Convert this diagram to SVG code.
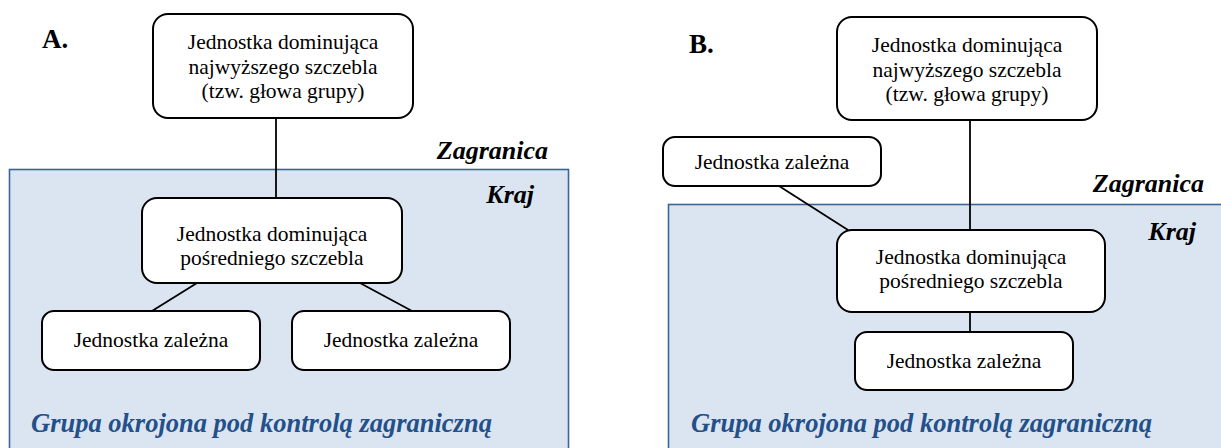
<svg xmlns="http://www.w3.org/2000/svg" width="1221" height="448" viewBox="0 0 1221 448">
<style>
.region{fill:#dbe5f1;stroke:#3b6497;stroke-width:1.6}
.node{fill:#ffffff;stroke:#000000;stroke-width:2}
.conn line{stroke:#000;stroke-width:1.8}
</style>
<rect x="0" y="0" width="1221" height="448" fill="#ffffff"/>

<!-- Panel A -->
<g id="panelA">
  <rect class="region" x="9.5" y="169.5" width="559" height="300"/>
  <text font-family="Liberation Serif" font-size="27" font-weight="bold" fill="#000" x="42" y="48">A.</text>
  <text font-family="Liberation Serif" font-size="26" font-weight="bold" font-style="italic" text-anchor="end" fill="#000" x="548" y="159">Zagranica</text>
  <text font-family="Liberation Serif" font-size="26" font-weight="bold" font-style="italic" text-anchor="end" fill="#000" x="534" y="203">Kraj</text>
  <text font-family="Liberation Serif" font-size="26.5" font-weight="bold" font-style="italic" fill="#24508a" x="31" y="432">Grupa okrojona pod kontrolą zagraniczną</text>
</g>
<g id="connectorsA" class="conn">
  <line x1="276" y1="118" x2="276" y2="198"/>
  <line x1="197" y1="283" x2="152" y2="311"/>
  <line x1="360" y1="283" x2="412" y2="311"/>
</g>
<g id="A_top">
  <rect class="node" x="153" y="14" width="260" height="104" rx="15"/>
  <text font-family="Liberation Serif" font-size="21.5" text-anchor="middle" fill="#000" x="283" y="49">Jednostka dominująca</text>
  <text font-family="Liberation Serif" font-size="21.5" text-anchor="middle" fill="#000" x="283" y="74">najwyższego szczebla</text>
  <text font-family="Liberation Serif" font-size="21.5" text-anchor="middle" fill="#000" x="283" y="98">(tzw. głowa grupy)</text>
</g>
<g id="A_mid">
  <rect class="node" x="142" y="198" width="260" height="85" rx="15"/>
  <text font-family="Liberation Serif" font-size="21.5" text-anchor="middle" fill="#000" x="272" y="241">Jednostka dominująca</text>
  <text font-family="Liberation Serif" font-size="21.5" text-anchor="middle" fill="#000" x="272" y="265">pośredniego szczebla</text>
</g>
<g id="A_child1">
  <rect class="node" x="42" y="311" width="218" height="59" rx="12"/>
  <text font-family="Liberation Serif" font-size="21.5" text-anchor="middle" fill="#000" x="151" y="347">Jednostka zależna</text>
</g>
<g id="A_child2">
  <rect class="node" x="292" y="311" width="218" height="59" rx="12"/>
  <text font-family="Liberation Serif" font-size="21.5" text-anchor="middle" fill="#000" x="401" y="347">Jednostka zależna</text>
</g>

<!-- Panel B -->
<g id="panelB">
  <rect class="region" x="668.5" y="204.5" width="600" height="300"/>
  <text font-family="Liberation Serif" font-size="27" font-weight="bold" fill="#000" x="689" y="53">B.</text>
  <text font-family="Liberation Serif" font-size="26" font-weight="bold" font-style="italic" text-anchor="end" fill="#000" x="1204" y="192">Zagranica</text>
  <text font-family="Liberation Serif" font-size="26" font-weight="bold" font-style="italic" text-anchor="end" fill="#000" x="1196" y="240">Kraj</text>
  <text font-family="Liberation Serif" font-size="26.5" font-weight="bold" font-style="italic" fill="#24508a" x="691" y="432">Grupa okrojona pod kontrolą zagraniczną</text>
</g>
<g id="connectorsB" class="conn">
  <line x1="970" y1="120" x2="970" y2="230"/>
  <line x1="779" y1="186" x2="848" y2="230"/>
  <line x1="970" y1="312" x2="970" y2="332"/>
</g>
<g id="B_top">
  <rect class="node" x="837" y="17" width="260" height="103" rx="15"/>
  <text font-family="Liberation Serif" font-size="21.5" text-anchor="middle" fill="#000" x="967" y="52">Jednostka dominująca</text>
  <text font-family="Liberation Serif" font-size="21.5" text-anchor="middle" fill="#000" x="967" y="77">najwyższego szczebla</text>
  <text font-family="Liberation Serif" font-size="21.5" text-anchor="middle" fill="#000" x="967" y="101">(tzw. głowa grupy)</text>
</g>
<g id="B_side">
  <rect class="node" x="663" y="137" width="218" height="49" rx="12"/>
  <text font-family="Liberation Serif" font-size="21.5" text-anchor="middle" fill="#000" x="772" y="169">Jednostka zależna</text>
</g>
<g id="B_mid">
  <rect class="node" x="837" y="230" width="268" height="82" rx="15"/>
  <text font-family="Liberation Serif" font-size="21.5" text-anchor="middle" fill="#000" x="971" y="264">Jednostka dominująca</text>
  <text font-family="Liberation Serif" font-size="21.5" text-anchor="middle" fill="#000" x="971" y="288">pośredniego szczebla</text>
</g>
<g id="B_child">
  <rect class="node" x="855" y="332" width="218" height="58" rx="12"/>
  <text font-family="Liberation Serif" font-size="21.5" text-anchor="middle" fill="#000" x="964" y="368">Jednostka zależna</text>
</g>
</svg>
